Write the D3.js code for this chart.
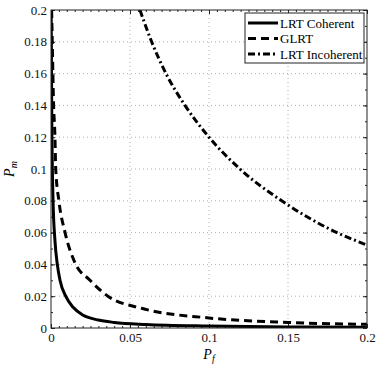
<!DOCTYPE html>
<html>
<head>
<meta charset="utf-8">
<script src="https://cdn.jsdelivr.net/npm/d3@7"></script>
<style>
body { margin: 0; background: #fff; }
svg text { font-family: "Liberation Serif", "Times New Roman", Times, serif !important; }
</style>
</head>
<body>
<script>
// curve data
var coherentPf = [0.0001, 0.0005, 0.0013, 0.0025, 0.004, 0.0057, 0.0093, 0.014, 0.0204, 0.03, 0.04, 0.06, 0.1, 0.15, 0.2];
var coherentPm = [0.2, 0.13, 0.08, 0.055, 0.04, 0.03, 0.02, 0.013, 0.008, 0.005, 0.0035, 0.0022, 0.0012, 0.0007, 0.0005];

var glrtPf = [0.0004, 0.001, 0.0015, 0.0025, 0.003, 0.005, 0.0089, 0.0152, 0.0247, 0.036, 0.0574, 0.1, 0.15, 0.2];
var glrtPm = [0.2, 0.17, 0.145, 0.12, 0.1, 0.08, 0.06, 0.041, 0.03, 0.02, 0.0124, 0.0063, 0.0035, 0.0023];

var incohPf = [0.0563, 0.0637, 0.0728, 0.0848, 0.1, 0.1196, 0.146, 0.181, 0.2];
var incohPm = [0.2, 0.18, 0.16, 0.14, 0.12, 0.1, 0.08, 0.06, 0.0522];

var seriesNames = ["LRT Coherent", "GLRT", "LRT Incoherent"];
var xTicks = [0, 0.05, 0.1, 0.15, 0.2];
var yTicks = [0, 0.02, 0.04, 0.06, 0.08, 0.1, 0.12, 0.14, 0.16, 0.18, 0.2];

var margin = { top: 10, right: 13, bottom: 38, left: 51 },
    width = 380 - margin.left - margin.right,
    height = 366 - margin.top - margin.bottom;

var x = d3.scaleLinear().domain([0, 0.2]).range([0, width]);
var y = d3.scaleLinear().domain([0, 0.2]).range([height, 0]);

var svg = d3.select("body").append("svg")
    .attr("width", 380)
    .attr("height", 366)
    .append("g")
    .attr("transform", "translate(" + margin.left + "," + margin.top + ")");

// grid
svg.append("g").selectAll("line").data(xTicks.slice(1, -1)).enter().append("line")
    .attr("x1", d => x(d)).attr("x2", d => x(d))
    .attr("y1", 0).attr("y2", height)
    .attr("stroke", "#b0b0b0").attr("stroke-dasharray", "1,3");
svg.append("g").selectAll("line").data(yTicks.slice(1, -1)).enter().append("line")
    .attr("y1", d => y(d)).attr("y2", d => y(d))
    .attr("x1", 0).attr("x2", width)
    .attr("stroke", "#b0b0b0").attr("stroke-dasharray", "1,3");

// axes, ticks inward on all sides
var fmt = d => d === 0 ? "0" : String(+d.toFixed(2));
var xMinor = d3.range(0, 41).map(i => i * 0.005);
var yMinor = d3.range(0, 21).map(i => i * 0.01);

function addAxis(axis, tr) {
    var g = svg.append("g").attr("transform", tr).call(axis);
    g.select(".domain").remove();
    g.attr("font-family", null);
    g.selectAll("line").attr("stroke", "#222");
    return g;
}
addAxis(d3.axisBottom(x).tickValues(xMinor).tickSize(-2).tickFormat(""), "translate(0," + height + ")");
addAxis(d3.axisTop(x).tickValues(xMinor).tickSize(-2).tickFormat(""), "translate(0,0)");
addAxis(d3.axisLeft(y).tickValues(yMinor).tickSize(-2).tickFormat(""), "translate(0,0)");
addAxis(d3.axisRight(y).tickValues(yMinor).tickSize(-2).tickFormat(""), "translate(" + width + ",0)");

var xAxis = addAxis(d3.axisBottom(x).tickValues(xTicks).tickSize(-4).tickPadding(5).tickFormat(fmt), "translate(0," + height + ")");
var yAxis = addAxis(d3.axisLeft(y).tickValues(yTicks).tickSize(-4).tickPadding(4).tickFormat(fmt), "translate(0,0)");
addAxis(d3.axisTop(x).tickValues(xTicks).tickSize(-4).tickFormat(""), "translate(0,0)");
addAxis(d3.axisRight(y).tickValues(yTicks).tickSize(-4).tickFormat(""), "translate(" + width + ",0)");
svg.selectAll(".tick text").attr("font-size", 13).attr("fill", "#111");

// clip
svg.append("clipPath").attr("id", "clip").append("rect")
    .attr("width", width).attr("height", height);

var line = d3.line().x(d => x(d[0])).y(d => y(d[1])).curve(d3.curveMonotoneX);
var plots = svg.append("g").attr("clip-path", "url(#clip)");

var curves = [
    { pf: coherentPf, pm: coherentPm, dash: null },
    { pf: glrtPf, pm: glrtPm, dash: "8,5" },
    { pf: incohPf, pm: incohPm, dash: "7,3,2,3" }
];
curves.forEach(function (c) {
    plots.append("path")
        .datum(d3.zip(c.pf, c.pm))
        .attr("d", line)
        .attr("fill", "none")
        .attr("stroke", "#000")
        .attr("stroke-width", 3)
        .attr("stroke-dasharray", c.dash);
});

// frame
svg.append("rect").attr("width", width).attr("height", height)
    .attr("fill", "none").attr("stroke", "#222").attr("stroke-width", 1);

// axis labels
var yl = svg.append("text")
    .attr("transform", "translate(" + (-37) + "," + (height / 2) + ") rotate(-90)")
    .attr("text-anchor", "middle").attr("font-size", 14).attr("font-style", "italic");
yl.append("tspan").text("P");
yl.append("tspan").attr("font-size", 10).attr("dy", 3).text("m");

var xl = svg.append("text")
    .attr("x", width / 2).attr("y", height + 31)
    .attr("text-anchor", "middle").attr("font-size", 14).attr("font-style", "italic");
xl.append("tspan").text("P");
xl.append("tspan").attr("font-size", 10).attr("dy", 3).text("f");

// legend
var legend = svg.append("g").attr("transform", "translate(" + (245 - margin.left) + "," + (13 - margin.top) + ")");
legend.append("rect").attr("width", 119).attr("height", 50)
    .attr("fill", "#fff").attr("stroke", "#222");
seriesNames.forEach(function (name, i) {
    var yy = 10 + i * 15.5;
    legend.append("line")
        .attr("x1", 3).attr("x2", 33).attr("y1", yy).attr("y2", yy)
        .attr("stroke", "#000").attr("stroke-width", 3)
        .attr("stroke-dasharray", curves[i].dash);
    legend.append("text").attr("x", 35).attr("y", yy).attr("dy", "0.35em")
        .attr("font-size", 13).text(name);
});
</script>
</body>
</html>
